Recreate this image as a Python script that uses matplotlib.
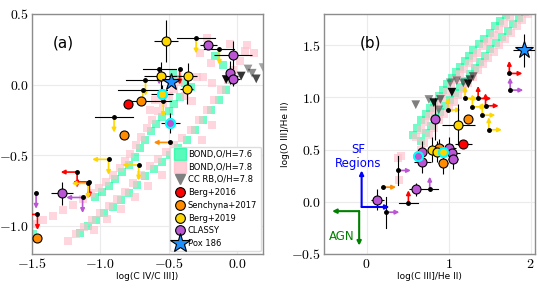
import numpy as np
import matplotlib
matplotlib.use('Agg')
import matplotlib.pyplot as plt
from matplotlib.lines import Line2D
from matplotlib.patches import FancyArrowPatch
from matplotlib.ticker import FuncFormatter, MultipleLocator

plt.rcParams['mathtext.fontset'] = 'cm'
plt.rcParams['font.family'] = 'DejaVu Sans'

# catalogues
cat_names = ['Berg+2016', 'Senchyna+2017', 'Berg+2019', 'CLASSY']
cat_colors = ['red', 'darkorange', 'gold', 'mediumorchid']

# ---------------- panel (a): log(C IV/C III]) vs log(O III]/He II) ----------------
# BOND models, O/H=7.6
a_bond76_x = [-1.49, -1.04, -0.99, -0.94, -0.89, -0.84, -0.79, -0.75, -0.71, -0.67, -0.63, -0.59, -0.55,
              -0.50, -0.46, -0.42, -0.47, -0.43, -0.38, -0.34,
              -1.15, -1.09, -1.03, -0.97, -0.91, -0.85, -0.79, -0.73, -0.67, -0.61, -0.55, -0.49, -0.43,
              -0.37, -0.31, -0.25, -0.19, -0.13, -0.08, -0.04, -0.16, -0.10]
a_bond76_y = [-1.06, -0.80, -0.76, -0.72, -0.67, -0.62, -0.57, -0.51, -0.45, -0.39, -0.33, -0.28, -0.23,
              -0.19, -0.14, -0.09, 0.08, 0.04, 0.01, -0.02,
              -1.05, -1.00, -0.96, -0.91, -0.87, -0.82, -0.77, -0.71, -0.65, -0.60, -0.55, -0.50, -0.45,
              -0.39, -0.32, -0.25, -0.18, -0.11, -0.04, 0.03, 0.20, 0.14]
# BOND models, O/H=7.8
a_bond78_x = [-1.49, -1.42, -1.35, -1.27, -1.20, -1.13, -1.07, -1.01, -0.96, -0.91, -0.86, -0.82, -0.78,
              -0.74, -0.70, -0.66, -0.62, -0.58, -0.54, -0.50, -0.46, -0.42, -0.38, -0.33, -0.29,
              -1.24, -1.18, -1.12, -1.06, -1.00, -0.94, -0.88, -0.82, -0.76, -0.70, -0.64, -0.58, -0.52,
              -0.46, -0.40, -0.34, -0.28, -0.22, -0.17, -0.12, -0.07, -0.03, 0.02, 0.06,
              -0.27, -0.22, -0.19, -0.05, 0.07, 0.12, -0.25, -0.18, -0.60, -0.64,
              -1.05, -0.95, -0.85, -0.75, -0.65, -0.55, -0.45, -0.35, -0.26, -0.18]
a_bond78_y = [-0.99, -0.96, -0.93, -0.89, -0.85, -0.81, -0.77, -0.73, -0.69, -0.64, -0.59, -0.54, -0.49,
              -0.43, -0.37, -0.31, -0.25, -0.19, -0.13, -0.08, -0.03, 0.02, -0.08, -0.12, 0.05,
              -1.11, -1.06, -1.01, -0.96, -0.91, -0.86, -0.81, -0.76, -0.70, -0.64, -0.58, -0.53, -0.48,
              -0.43, -0.38, -0.32, -0.25, -0.18, -0.11, -0.04, 0.03, 0.10, 0.17, 0.24,
              0.22, 0.33, 0.15, 0.29, 0.28, 0.22, 0.05, 0.01, -0.11, -0.18,
              -1.03, -0.95, -0.88, -0.80, -0.72, -0.64, -0.57, -0.48, -0.39, -0.29]
# CC RB models, O/H=7.8
a_ccrb_x = [-0.08, -0.02, 0.03, 0.08, 0.14, 0.19, -0.05, 0.11]
a_ccrb_y = [0.035, 0.03, 0.06, 0.11, 0.04, 0.12, 0.04, 0.08]
a_ccrb_alpha = [0.95, 0.9, 0.8, 0.4, 0.7, 0.35, 0.85, 0.45]

# detections
a_berg16_x, a_berg16_y = [-0.80], [-0.135]
a_berg16_xerr, a_berg16_yerr = [0.0], [0.0]
a_sen17_x, a_sen17_y = [-0.70, -0.83, -1.46], [-0.12, -0.36, -1.09]
a_sen17_xerr, a_sen17_yerr = [0.10, 0.0, 0.0], [0.0, 0.0, 0.0]
a_berg19_x = [-0.52, -0.56, -0.36, -0.37, -0.55]
a_berg19_y = [0.31, 0.06, 0.06, -0.035, -0.065]
a_berg19_xerr = [0.09, 0.12, 0.07, 0.05, 0.08]
a_berg19_yerr = [0.15, 0.10, 0.09, 0.10, 0.06]
a_classy_x = [-0.21, -0.03, -0.05, -0.03, -0.49, -1.28]
a_classy_y = [0.28, 0.21, 0.085, 0.04, -0.27, -0.77]
a_classy_xerr = [0.06, 0.14, 0.0, 0.05, 0.07, 0.08]
a_classy_yerr = [0.0, 0.10, 0.08, 0.05, 0.07, 0.08]
a_cyan = {'Berg+2019': [4], 'CLASSY': [4]}
a_pox_x, a_pox_y = [-0.48], [0.015]

# upper limits (black dot + arrows)
a_lim_x = [-0.30, -0.13, -0.42, -0.57, -0.67, -0.69, -0.54, -0.90, -0.49, -0.94, -0.72, -1.17,
           -1.08, -1.09, -1.13, -1.47, -1.46]
a_lim_y = [0.33, 0.25, 0.11, 0.11, 0.03, -0.04, -0.12, -0.23, -0.41, -0.53, -0.57, -0.62,
           -0.69, -0.70, -0.80, -0.77, -0.92]
a_lim_cat = ['Berg+2019', 'Berg+2019', 'Berg+2016', 'CLASSY', 'Berg+2019', 'Berg+2019', 'Berg+2019',
             'Berg+2019', 'Senchyna+2017', 'Berg+2019', 'Berg+2019', 'Berg+2016', 'Berg+2016',
             'Berg+2019', 'CLASSY', 'CLASSY', 'Berg+2016']
a_lim_xerr = [0.14, 0.11, 0.0, 0.12, 0.14, 0.18, 0.06, 0.14, 0.0, 0.0, 0.0, 0.0, 0.0, 0.0, 0.0, 0.0, 0.0]
a_lim_down = [1, 1, 1, 1, 1, 1, 1, 1, 0, 1, 1, 1, 1, 1, 1, 1, 1]
a_lim_left = [0, 0, 0, 0, 0, 0, 0, 0, 1, 1, 1, 1, 1, 1, 1, 0, 1]

# ---------------- panel (b): log(C III]/He II) vs log(O III]/He II) ----------------
b_bond76_x = [0.56, 0.61, 0.66, 0.72, 0.77, 0.82, 0.88, 0.93, 0.98, 1.04, 1.09, 1.14, 1.20, 1.25, 1.30,
              1.37, 1.43, 1.50, 1.57, 1.63, 1.70, 1.76,
              0.66, 0.72, 0.78, 0.84, 0.90, 0.96, 1.02, 1.08, 1.14, 1.20, 1.26, 1.32, 1.38, 1.44, 1.51,
              1.58, 1.65, 1.72, 1.79, 1.86, 1.93]
b_bond76_y = [0.64, 0.71, 0.78, 0.84, 0.90, 0.95, 1.01, 1.07, 1.13, 1.19, 1.24, 1.29, 1.35, 1.40, 1.45,
              1.51, 1.56, 1.62, 1.68, 1.73, 1.79, 1.84,
              0.58, 0.66, 0.73, 0.80, 0.86, 0.92, 0.98, 1.04, 1.10, 1.16, 1.22, 1.28, 1.34, 1.40, 1.46,
              1.52, 1.58, 1.64, 1.70, 1.76, 1.82]
b_bond78_x = [0.60, 0.66, 0.71, 0.76, 0.82, 0.87, 0.92, 0.98, 1.03, 1.09, 1.14, 1.19, 1.25, 1.30, 1.35,
              1.42, 1.48, 1.55, 1.62, 1.68, 1.75, 1.80,
              0.70, 0.76, 0.82, 0.88, 0.94, 1.00, 1.06, 1.12, 1.18, 1.24, 1.30, 1.36, 1.42, 1.48, 1.55,
              1.62, 1.69, 1.76, 1.83, 1.90, 1.97, 0.38, 0.40, 0.42, 0.66]
b_bond78_y = [0.62, 0.69, 0.76, 0.82, 0.88, 0.93, 0.99, 1.05, 1.11, 1.17, 1.22, 1.27, 1.33, 1.38, 1.43,
              1.49, 1.54, 1.60, 1.66, 1.71, 1.77, 1.82,
              0.56, 0.64, 0.71, 0.78, 0.84, 0.90, 0.96, 1.02, 1.08, 1.14, 1.20, 1.26, 1.32, 1.38, 1.44,
              1.50, 1.56, 1.62, 1.68, 1.74, 1.80, 0.42, 0.21, 0.44, 0.50]
b_ccrb_x = [0.60, 0.76, 0.82, 0.90, 0.88, 1.04, 1.02, 1.10, 1.18, 1.26, 1.24, 1.30]
b_ccrb_y = [0.93, 0.98, 0.95, 0.98, 0.88, 1.05, 1.14, 1.16, 1.14, 1.17, 1.13, 1.20]
b_ccrb_alpha = [0.5, 0.45, 0.9, 0.5, 0.4, 0.95, 0.4, 0.4, 0.5, 0.6, 0.9, 0.5]

b_berg16_x, b_berg16_y = [1.18], [0.55]
b_berg16_xerr, b_berg16_yerr = [0.10], [0.0]
b_sen17_x, b_sen17_y = [1.24, 0.88, 0.93], [0.79, 0.52, 0.37]
b_sen17_xerr, b_sen17_yerr = [0.0, 0.05, 0.06], [0.0, 0.08, 0.10]
b_berg19_x = [1.12, 0.80, 0.86, 0.93]
b_berg19_y = [0.74, 0.50, 0.48, 0.48]
b_berg19_xerr = [0.20, 0.05, 0.06, 0.05]
b_berg19_yerr = [0.20, 0.12, 0.10, 0.06]
b_classy_x = [0.84, 0.68, 0.63, 0.68, 1.01, 1.04, 1.05, 0.60, 0.13]
b_classy_y = [0.79, 0.48, 0.44, 0.38, 0.52, 0.47, 0.41, 0.12, 0.02]
b_classy_xerr = [0.0, 0.05, 0.06, 0.10, 0.08, 0.10, 0.06, 0.08, 0.08]
b_classy_yerr = [0.20, 0.10, 0.06, 0.10, 0.10, 0.08, 0.10, 0.06, 0.10]
b_cyan = {'Berg+2019': [3], 'CLASSY': [2]}
b_pox_x, b_pox_y = [1.92], [1.45]
b_pox_xerr, b_pox_yerr = [0.13], [0.16]

b_lim_x = [1.74, 1.75, 1.20, 1.36, 1.29, 1.45, 0.99, 1.41, 1.49, 0.38, 0.20, 0.77, 0.51, 0.24]
b_lim_y = [1.23, 1.07, 0.99, 0.99, 0.91, 0.92, 0.88, 0.83, 0.69, 0.30, 0.14, 0.12, -0.01, -0.10]
b_lim_cat = ['Berg+2016', 'CLASSY', 'Berg+2019', 'Berg+2016', 'Berg+2019', 'Berg+2016', 'Berg+2019',
             'Berg+2019', 'Berg+2019', 'CLASSY', 'Senchyna+2017', 'CLASSY', 'Berg+2016', 'CLASSY']
b_lim_xerr = [0, 0, 0, 0, 0, 0, 0, 0, 0, 0, 0, 0.10, 0.12, 0]
b_lim_yerr = [0, 0, 0, 0, 0, 0, 0, 0, 0, 0.14, 0, 0, 0, 0.15]
b_lim_up = [1, 1, 1, 1, 1, 1, 1, 1, 1, 0, 0, 1, 1, 0]
b_lim_right = [1, 1, 1, 1, 1, 1, 1, 1, 1, 1, 1, 0, 0, 1]


def arrow(ax, x0, y0, x1, y1, color, lw=1.2):
    ax.add_patch(FancyArrowPatch((x0, y0), (x1, y1), arrowstyle='-|>', mutation_scale=6,
                                 color=color, lw=lw, shrinkA=0, shrinkB=0, zorder=3))


def tick_fmt(dec):
    return FuncFormatter(lambda v, p: r'$%.*f$' % (dec, v))


fig = plt.figure(figsize=(5.38, 2.97), dpi=100)
axa = fig.add_axes([0.0595, 0.145, 0.4295, 0.808])
axb = fig.add_axes([0.602, 0.145, 0.392, 0.808])

green = 'mediumspringgreen'
pink = 'pink'
sq = 38

for ax in (axa, axb):
    ax.grid(True, color='#ebebeb', lw=0.8, zorder=0)
    ax.set_axisbelow(True)
    ax.tick_params(length=0, labelsize=10, pad=2)
    for s in ax.spines.values():
        s.set_color('0.55')
        s.set_linewidth(1.0)

# models
axa.scatter(a_bond76_x, a_bond76_y, marker='s', s=sq, color=green, alpha=0.55, lw=0, zorder=1)
axa.scatter(a_bond78_x, a_bond78_y, marker='s', s=sq, color=pink, alpha=0.65, lw=0, zorder=1)
axa.scatter(a_ccrb_x, a_ccrb_y, marker='v', s=40, color='k', alpha=a_ccrb_alpha, lw=0, zorder=2)
axb.scatter(b_bond76_x, b_bond76_y, marker='s', s=sq, color=green, alpha=0.55, lw=0, zorder=1)
axb.scatter(b_bond78_x, b_bond78_y, marker='s', s=sq, color=pink, alpha=0.65, lw=0, zorder=1)
axb.scatter(b_ccrb_x, b_ccrb_y, marker='v', s=40, color='k', alpha=b_ccrb_alpha, lw=0, zorder=2)

col = dict(zip(cat_names, cat_colors))

# upper limits, panel (a)
La, Lax = 0.11, 0.12
for x, y, c, xe, dn, lf in zip(a_lim_x, a_lim_y, a_lim_cat, a_lim_xerr, a_lim_down, a_lim_left):
    if xe > 0:
        axa.plot([x - xe, x + xe], [y, y], color='k', lw=0.8, zorder=3)
    if dn:
        arrow(axa, x, y, x, y - La, col[c])
    if lf:
        arrow(axa, x, y, x - Lax, y, col[c])
axa.plot(a_lim_x, a_lim_y, 'o', color='k', ms=2.5, zorder=4)

# upper limits, panel (b)
Lb, Lbx = 0.12, 0.16
for x, y, c, xe, ye, up, rt in zip(b_lim_x, b_lim_y, b_lim_cat, b_lim_xerr, b_lim_yerr, b_lim_up, b_lim_right):
    if xe > 0:
        axb.plot([x - xe, x + xe], [y, y], color='k', lw=0.8, zorder=3)
    if ye > 0:
        axb.plot([x, x], [y - ye, y + ye], color='k', lw=0.8, zorder=3)
    if up:
        arrow(axb, x, y, x, y + Lb, col[c])
    if rt:
        arrow(axb, x, y, x + Lbx, y, col[c])
axb.plot(b_lim_x, b_lim_y, 'o', color='k', ms=2.5, zorder=4)

# detections
a_det = [(a_berg16_x, a_berg16_y, a_berg16_xerr, a_berg16_yerr),
         (a_sen17_x, a_sen17_y, a_sen17_xerr, a_sen17_yerr),
         (a_berg19_x, a_berg19_y, a_berg19_xerr, a_berg19_yerr),
         (a_classy_x, a_classy_y, a_classy_xerr, a_classy_yerr)]
b_det = [(b_berg16_x, b_berg16_y, b_berg16_xerr, b_berg16_yerr),
         (b_sen17_x, b_sen17_y, b_sen17_xerr, b_sen17_yerr),
         (b_berg19_x, b_berg19_y, b_berg19_xerr, b_berg19_yerr),
         (b_classy_x, b_classy_y, b_classy_xerr, b_classy_yerr)]
for ax, det, cyan in ((axa, a_det, a_cyan), (axb, b_det, b_cyan)):
    for name, c, (x, y, xe, ye) in zip(cat_names, cat_colors, det):
        ax.errorbar(x, y, xerr=xe, yerr=ye, fmt='none', ecolor='k', elinewidth=0.8, zorder=3)
        ax.plot(x, y, 'o', ms=6.5, mfc=c, mec='k', mew=0.8, zorder=5)
        for i in cyan.get(name, []):
            ax.plot(x[i], y[i], 'o', ms=6.5, mfc=c, mec='cyan', mew=1.5, zorder=6)

axa.plot(a_pox_x, a_pox_y, '*', ms=13, mfc='dodgerblue', mec='k', mew=0.8, zorder=7)
axb.errorbar(b_pox_x, b_pox_y, xerr=b_pox_xerr, yerr=b_pox_yerr, fmt='none', ecolor='k', elinewidth=0.8, zorder=3)
axb.plot(b_pox_x, b_pox_y, '*', ms=13, mfc='dodgerblue', mec='k', mew=0.8, zorder=7)

# SF / AGN guide arrows
arrow(axb, -0.06, -0.05, -0.06, 0.30, 'blue', lw=1.5)
arrow(axb, -0.06, -0.05, 0.28, -0.05, 'blue', lw=1.5)
arrow(axb, -0.09, -0.09, -0.42, -0.09, 'green', lw=1.5)
arrow(axb, -0.09, -0.09, -0.09, -0.42, 'green', lw=1.5)
axb.text(-0.10, 0.43, 'SF\nRegions', color='blue', fontsize=8.5, ha='center', va='center', linespacing=1.1)
axb.text(-0.30, -0.33, 'AGN', color='green', fontsize=8.5, ha='center', va='center')

# axes
axa.set_xlim(-1.5, 0.19)
axa.set_ylim(-1.2, 0.5)
axa.xaxis.set_major_locator(MultipleLocator(0.5))
axa.yaxis.set_major_locator(MultipleLocator(0.5))
axa.xaxis.set_major_formatter(tick_fmt(1))
axa.yaxis.set_major_formatter(tick_fmt(1))
axa.set_xlabel('log(C IV/C III])', fontsize=6.5, labelpad=1)
axa.text(0.09, 0.86, '(a)', transform=axa.transAxes, fontsize=11)

axb.set_xlim(-0.52, 2.05)
axb.set_ylim(-0.5, 1.8)
axb.xaxis.set_major_locator(MultipleLocator(1))
axb.yaxis.set_major_locator(MultipleLocator(0.5))
axb.xaxis.set_major_formatter(tick_fmt(0))
axb.yaxis.set_major_formatter(tick_fmt(1))
axb.set_xlabel('log(C III]/He II)', fontsize=6.5, labelpad=1)
axb.set_ylabel('log(O III]/He II)', fontsize=6.5, labelpad=1)
axb.text(0.17, 0.86, '(b)', transform=axb.transAxes, fontsize=11)

# legend
handles = [Line2D([], [], marker='s', ls='', color=green, alpha=0.65, ms=8),
           Line2D([], [], marker='s', ls='', color=pink, alpha=0.75, ms=8),
           Line2D([], [], marker='v', ls='', color='0.5', ms=7),
           ]
for c in cat_colors:
    handles.append(Line2D([], [], marker='o', ls='', mfc=c, mec='k', mew=0.8, ms=7))
handles.append(Line2D([], [], marker='*', ls='', mfc='dodgerblue', mec='k', mew=0.8, ms=15))
labels = ['BOND,O/H=7.6', 'BOND,O/H=7.8', 'CC RB,O/H=7.8'] + cat_names + ['Pox 186']
axa.legend(handles, labels, loc='lower right', fontsize=6, borderaxespad=0.3, handletextpad=0.2,
           labelspacing=0.45, borderpad=0.4, handlelength=1.5, framealpha=1, edgecolor='#dddddd')

fig.savefig('out.png', dpi=100)
